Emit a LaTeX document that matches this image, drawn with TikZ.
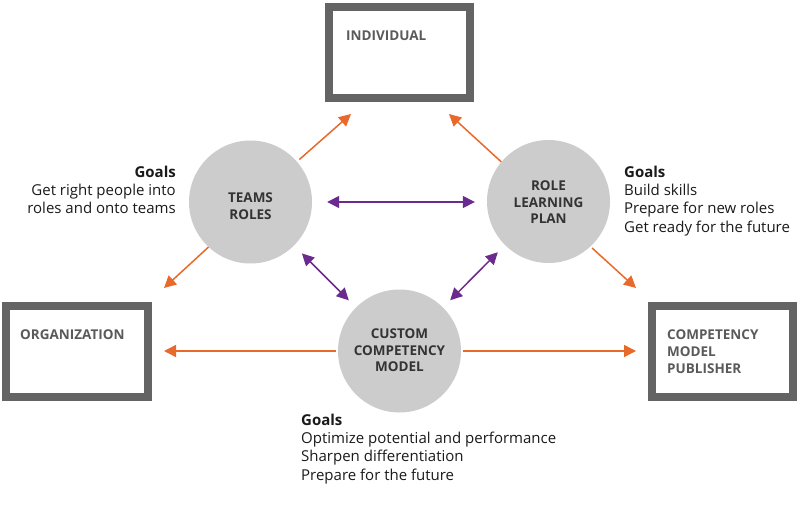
\documentclass[tikz,border=0pt]{standalone}
\usepackage{fontspec}
\setmainfont{Open Sans}
\usetikzlibrary{arrows.meta}
\definecolor{orng}{HTML}{E8692A}
\definecolor{purp}{HTML}{6B2A8E}
\definecolor{boxgray}{HTML}{646464}
\definecolor{circgray}{HTML}{CCCCCC}
\definecolor{labgray}{HTML}{5A5A5A}
\definecolor{txt}{HTML}{1A1A1A}
\definecolor{ctxt}{HTML}{333333}
\begin{document}
\begin{tikzpicture}[x=1pt,y=-1pt,
 box/.style={draw=boxgray, line width=8pt, fill=white, rectangle, inner sep=0pt, minimum width=141pt, minimum height=91pt},
 circ/.style={circle, fill=circgray, inner sep=0pt, minimum size=123pt},
 ctext/.style={anchor=north, align=center, inner sep=0pt, text=ctxt, font=\fontsize{13.5}{16.8}\selectfont\bfseries},
 btext/.style={anchor=north west, align=left, inner sep=0pt, text=labgray, font=\fontsize{13.5}{17.3}\selectfont\bfseries},
 goals/.style={inner sep=0pt, text=txt, font=\fontsize{15}{18.3}\selectfont},
 oarr/.style={draw=orng, line width=1.5pt, -{Triangle[length=12pt,width=12pt]}},
 parr/.style={draw=purp, line width=1.5pt, {Triangle[length=12pt,width=12pt]}-{Triangle[length=12pt,width=12pt]}},
]
\useasboundingbox (0,0) rectangle (800,506);

% boxes
\node[box] (indiv) at (399.5,52.5) {};
\node[box, minimum width=142pt] (org) at (77,351.5) {};
\node[box] (pub) at (722.5,351.5) {};

% circles
\node[circ] (teams) at (250.5,202) {};
\node[circ] (role) at (548.5,201.5) {};
\node[circ] (custom) at (399.5,351) {};

% free arrow ends
\coordinate (iL) at (351,114);
\coordinate (iR) at (449,114);
\coordinate (oT) at (164,288);
\coordinate (oH) at (164,351);
\coordinate (pT) at (636,288);
\coordinate (pH) at (636,351);

% orange arrows
\draw[oarr, shorten <=3pt] (teams.41) -- (iL);
\draw[oarr] (role.140) -- (iR);
\draw[oarr] (teams.227) -- (oT);
\draw[oarr, shorten <=2pt] (role.313) -- (pT);
\draw[oarr, shorten <=2pt] (custom.west) -- (oH);
\draw[oarr, shorten <=2pt] (custom.east) -- (pH);

% purple arrows
\draw[parr, shorten <=15pt, shorten >=12pt] (teams.east) -- (teams.east -| role.west);
\draw[parr, shorten <=11pt, shorten >=10pt] (teams.-45) -- (custom.135);
\draw[parr, shorten <=10pt, shorten >=10pt] (role.225) -- (custom.45);

% box labels
\node[btext, anchor=base west] (indivt) at (346,40) {INDIVIDUAL};
\node[btext, anchor=base west] (orgt) at (20,339) {ORGANIZATION};
\node[btext] (pubt) at (667,329.4) {COMPETENCY\\MODEL\\PUBLISHER};

% circle labels
\node[ctext] (teamst) at (250.5,192.4) {TEAMS\\ROLES};
\node[ctext] (rolet) at (548.5,180.4) {ROLE\\LEARNING\\PLAN};
\node[ctext] (custt) at (399.5,328.4) {CUSTOM\\COMPETENCY\\MODEL};

% goals
\node[goals, anchor=north east, align=right] (gl) at (176,165.6) {\textbf{Goals}\\Get right people into\\roles and onto teams};
\node[goals, anchor=north west, align=left] (gr) at (624,165.6) {\textbf{Goals}\\Build skills\\Prepare for new roles\\Get ready for the future};
\node[goals, anchor=north west, align=left] (gb) at (301,413.6) {\textbf{Goals}\\Optimize potential and performance\\Sharpen differentiation\\Prepare for the future};
\end{tikzpicture}
\end{document}
